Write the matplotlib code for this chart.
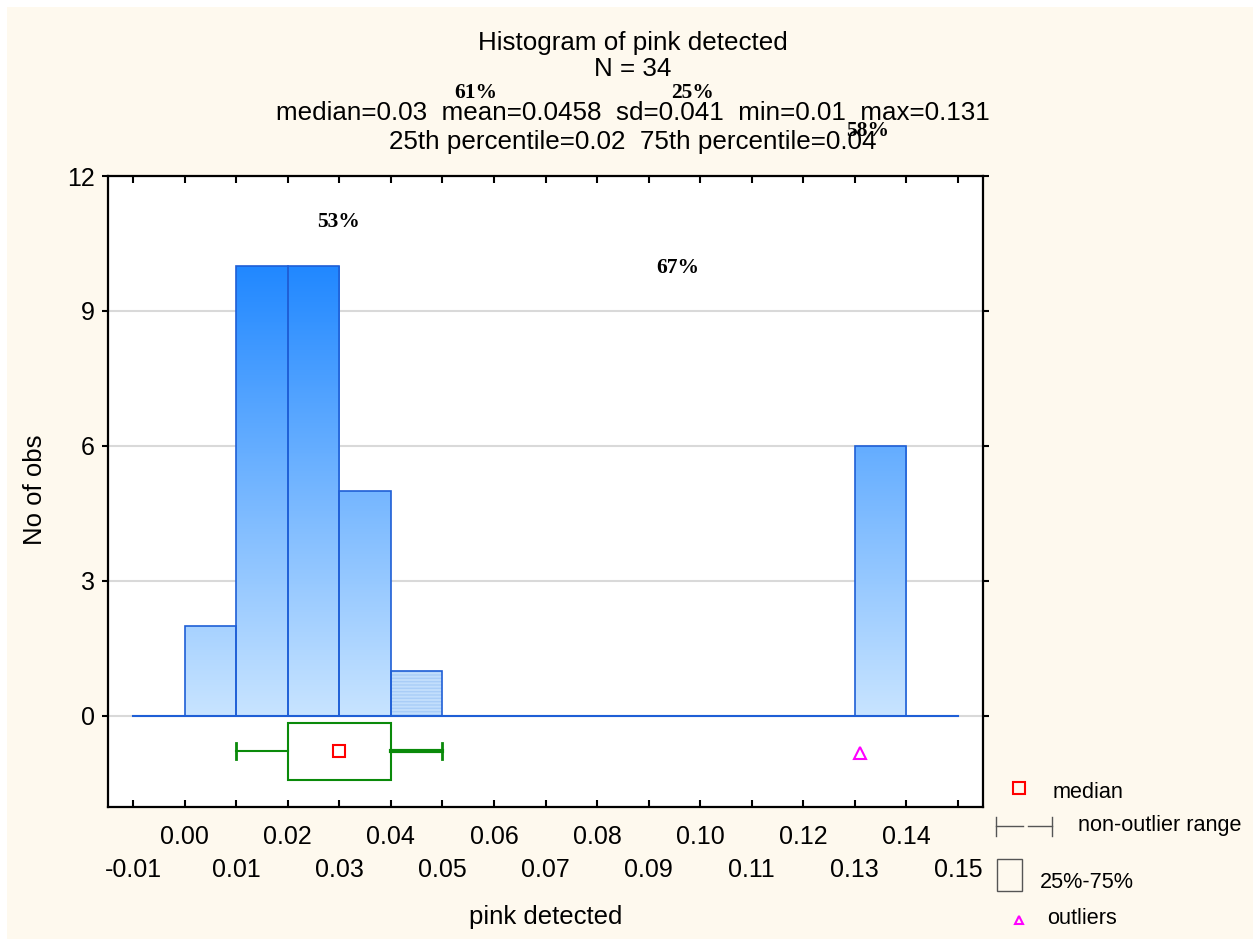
import numpy as np
import matplotlib
matplotlib.use('Agg')
import matplotlib.pyplot as plt
from matplotlib.patches import Rectangle
from matplotlib.lines import Line2D
from matplotlib.colors import LinearSegmentedColormap

plt.rcParams['font.family'] = ['Liberation Sans', 'DejaVu Sans']

# histogram data (bins of width 0.01)
bin_left = [0.00, 0.01, 0.02, 0.03, 0.04, 0.13]
counts = [2, 10, 10, 5, 1, 6]
bin_width = 0.01

# box plot summary
whisker_lo, q1, median, q3, whisker_hi = 0.01, 0.02, 0.03, 0.04, 0.05
outliers = [0.131]

major_ticks = [0.00, 0.02, 0.04, 0.06, 0.08, 0.10, 0.12, 0.14]
minor_ticks = [-0.01, 0.01, 0.03, 0.05, 0.07, 0.09, 0.11, 0.13, 0.15]
y_ticks = [0, 3, 6, 9, 12]

title_lines = ["Histogram of pink detected", "N = 34",
               "median=0.03  mean=0.0458  sd=0.041  min=0.01  max=0.131",
               "25th percentile=0.02  75th percentile=0.04"]

# stray percentage labels (figure pixel positions)
pct_labels = ["61%", "25%", "58%", "53%", "67%"]
pct_pos = [(476, 93), (692, 93), (868, 131), (338, 222), (678, 268)]

W, H = 1253, 939
cream = '#FEF9EE'
fig = plt.figure(figsize=(W/100, H/100), dpi=100)
fig.patch.set_facecolor('white')
fig.add_artist(Rectangle((7/W, 0), 1, 1 - 7/H, transform=fig.transFigure,
                         facecolor=cream, edgecolor='none', zorder=-10))

def fx(px):
    return px / W

def fy(py):
    return 1 - py / H

ax = fig.add_axes([fx(108), fy(807), (983-108)/W, (807-176)/H])
ax.set_facecolor('white')
xlo, xhi = -0.01485, 0.15485
ax.set_xlim(xlo, xhi)
ax.set_ylim(-2.03, 12)

# grid
for yv in y_ticks:
    ax.axhline(yv, color='#D9D9D9', lw=1.5, zorder=0)

# gradient-filled bars
cmap = LinearSegmentedColormap.from_list('g', ['#C8E4FF', '#2188FF'])
grad = np.linspace(0, 1.2, 300).reshape(-1, 1)
for xl, c in zip(bin_left, counts):
    rect = Rectangle((xl, 0), bin_width, c, facecolor='none',
                     edgecolor='#1F5FD6', lw=1.2, zorder=3)
    ax.add_patch(rect)
    if c == 1:
        hatch = Rectangle((xl, 0), bin_width, c, facecolor='#C2DEFC',
                          edgecolor='#A9CDF7', hatch='-----', lw=0, zorder=2)
        ax.add_patch(hatch)
    else:
        im = ax.imshow(grad, extent=[xlo, xhi, 0, 12], origin='lower',
                       aspect='auto', cmap=cmap, vmin=0, vmax=1, zorder=2)
        im.set_clip_path(rect)

ax.plot([-0.01, 0.15], [0, 0], color='#1F5FD6', lw=1.5, zorder=4)

# box plot
green = '#0A8A0A'
yb = -0.78
ax.plot([whisker_lo, q1], [yb, yb], color=green, lw=1.5)
ax.plot([q3, whisker_hi], [yb, yb], color=green, lw=3)
ax.plot([whisker_lo, whisker_lo], [-0.6, -0.96], color=green, lw=2)
ax.plot([whisker_hi, whisker_hi], [-0.6, -0.96], color=green, lw=2)
ax.add_patch(Rectangle((q1, -1.43), q3 - q1, 1.27, facecolor='none',
                       edgecolor=green, lw=1.5))
ax.plot([median], [yb], 's', ms=8, mfc='none', mec='red', mew=1.5)
ax.plot(outliers, [-0.82]*len(outliers), '^', ms=8, mfc='none',
        mec='#FF00FF', mew=1.5)

# axes styling
for sp in ax.spines.values():
    sp.set_linewidth(1.6)
ax.set_xticks(major_ticks, labels=['%.2f' % v for v in major_ticks])
ax.set_xticks(minor_ticks, labels=['%.2f' % v for v in minor_ticks], minor=True)
ax.tick_params(axis='x', which='both', direction='in', top=True, length=5,
               width=1.5, labelsize=18)
ax.tick_params(axis='x', which='major', pad=13)
ax.tick_params(axis='x', which='minor', pad=37)
ax.set_yticks(y_ticks)
ax.tick_params(axis='y', which='both', direction='out', right=True, length=4.5,
               width=1.5, labelsize=18, pad=5)

fig.text(fx(35), fy(490), 'No of obs', rotation=90, ha='center', va='center',
         fontsize=18.5)
fig.text(fx(546), fy(917), 'pink detected', ha='center', va='center',
         fontsize=18.5)

for txt, py in zip(title_lines, [43, 69, 113, 142]):
    fig.text(fx(633), fy(py), txt, ha='center', va='center', fontsize=18.7)

for txt, (px, py) in zip(pct_labels, pct_pos):
    fig.text(fx(px), fy(py), txt, ha='center', va='center', fontsize=15.5,
             fontweight='bold', family='Liberation Serif')

# legend drawn outside the axes
fig.add_artist(Line2D([fx(1019)], [fy(788)], marker='s', ms=8, mfc='none',
                      mec='red', mew=1.5, transform=fig.transFigure))
fig.text(fx(1053), fy(793), 'median', va='center', fontsize=15.6)
gray = '#555555'
for x0, x1 in [(996, 1023), (1028, 1052)]:
    fig.add_artist(Line2D([fx(x0), fx(x1)], [fy(826), fy(826)], color=gray,
                          lw=1, transform=fig.transFigure))
for xv in [996, 1052]:
    fig.add_artist(Line2D([fx(xv), fx(xv)], [fy(817), fy(836)], color=gray,
                          lw=1, transform=fig.transFigure))
fig.text(fx(1078), fy(826), 'non-outlier range', va='center', fontsize=15.6)
fig.add_artist(Rectangle((fx(997), fy(891)), (1022-997)/W, (891-859)/H,
                         facecolor='none', edgecolor=gray, lw=1,
                         transform=fig.transFigure))
fig.text(fx(1040), fy(883), '25%-75%', va='center', fontsize=15.6)
fig.add_artist(Line2D([fx(1019)], [fy(920)], marker='^', ms=6, mfc='none',
                      mec='#FF00FF', mew=1.5, transform=fig.transFigure))
fig.text(fx(1047), fy(918), 'outliers', va='center', fontsize=15.6)

fig.savefig('out.png', dpi=100, facecolor=fig.get_facecolor())
